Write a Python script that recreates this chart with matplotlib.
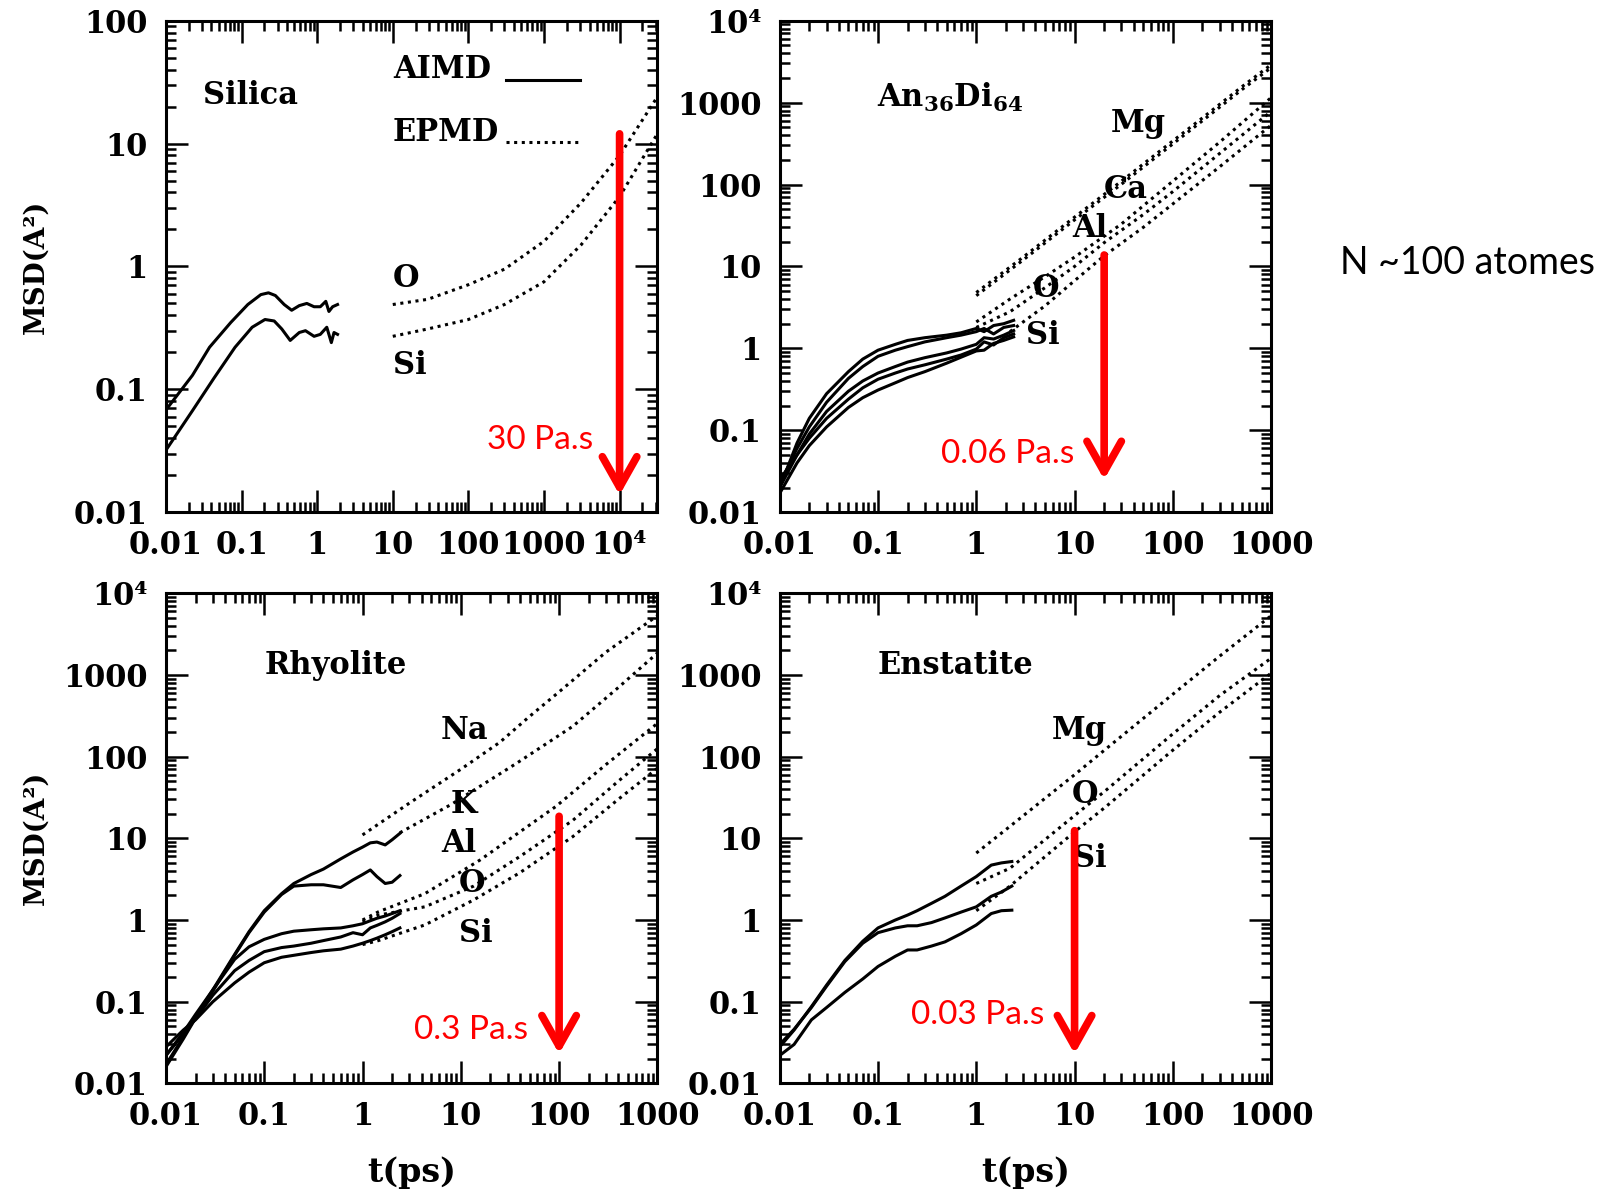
import matplotlib
matplotlib.use("Agg")
import matplotlib.pyplot as plt
from matplotlib.ticker import LogLocator, NullFormatter
import numpy as np

plt.rcParams['font.family'] = 'DejaVu Serif'
plt.rcParams['font.weight'] = 'bold'
plt.rcParams['mathtext.fontset'] = 'dejavuserif'

# ---- Silica ----
sil_t_aimd = [0.01, 0.0224, 0.0377, 0.072, 0.121, 0.18, 0.227, 0.28, 0.366, 0.46, 0.58, 0.73, 0.91, 1.1, 1.3, 1.43, 1.6, 1.86]
sil_O_aimd = [0.068, 0.13, 0.22, 0.35, 0.49, 0.59, 0.61, 0.58, 0.49, 0.44, 0.48, 0.50, 0.47, 0.47, 0.52, 0.43, 0.47, 0.49]
sil_t_aimd_si = [0.01, 0.0224, 0.043, 0.082, 0.138, 0.204, 0.27, 0.34, 0.44, 0.58, 0.7, 0.91, 1.1, 1.34, 1.54, 1.67, 1.86]
sil_Si_aimd = [0.032, 0.067, 0.123, 0.22, 0.32, 0.37, 0.36, 0.31, 0.25, 0.29, 0.30, 0.27, 0.28, 0.32, 0.24, 0.29, 0.28]
sil_t_epmd = [10, 29, 100, 300, 1000, 3100, 10000, 31600]
sil_O_epmd = [0.49, 0.54, 0.71, 0.95, 1.6, 3.3, 8.0, 24]
sil_Si_epmd = [0.27, 0.31, 0.37, 0.49, 0.75, 1.5, 3.7, 12]

# ---- An36Di64 ----
and_t_aimd = [0.01, 0.015, 0.02, 0.03, 0.05, 0.07, 0.1, 0.15, 0.2, 0.3, 0.5, 0.7, 1.0, 1.2, 1.5, 1.9, 2.4]
and_Mg_aimd = [0.02, 0.07, 0.14, 0.28, 0.52, 0.74, 0.95, 1.12, 1.25, 1.35, 1.45, 1.55, 1.75, 1.6, 1.9, 2.0, 2.2]
and_Ca_aimd = [0.022, 0.06, 0.11, 0.22, 0.43, 0.6, 0.8, 0.95, 1.05, 1.2, 1.35, 1.45, 1.6, 1.75, 1.5, 1.8, 1.9]
and_Al_aimd = [0.02, 0.05, 0.09, 0.17, 0.3, 0.4, 0.5, 0.6, 0.68, 0.77, 0.88, 0.98, 1.12, 1.35, 1.3, 1.45, 1.65]
and_O_aimd = [0.025, 0.05, 0.08, 0.14, 0.24, 0.33, 0.42, 0.5, 0.56, 0.63, 0.74, 0.83, 0.98, 1.2, 1.1, 1.35, 1.5]
and_Si_aimd = [0.017, 0.04, 0.065, 0.11, 0.19, 0.25, 0.31, 0.38, 0.44, 0.52, 0.66, 0.78, 0.93, 0.95, 1.15, 1.25, 1.38]
and_t_mg = [1, 3, 10, 30, 74, 200, 500, 1000]
and_Mg_epmd = [4.8, 13, 40, 110, 257, 650, 1550, 2900]
and_Ca_epmd = [4.4, 12, 37, 101, 236, 600, 1430, 2670]
and_t_al = [1, 2.2, 5, 10, 30, 100, 300, 1000]
and_Al_epmd = [2.1, 4.0, 7.5, 13, 33, 110, 330, 1150]
and_t_o = [1, 2.2, 5, 10, 20, 50, 100, 300, 1000]
and_O_epmd = [1.8, 2.8, 5.5, 10, 19.5, 43, 82, 240, 780]
and_t_si = [2.2, 5, 10, 20, 50, 100, 300, 1000]
and_Si_epmd = [1.6, 3.3, 6.7, 13.5, 30, 58, 165, 530]

# ---- Rhyolite ----
rhy_t_aimd = [0.01, 0.015, 0.02, 0.03, 0.05, 0.07, 0.1, 0.15, 0.2, 0.3, 0.4, 0.6, 0.8, 1.0, 1.2, 1.4, 1.7, 2.0, 2.4]
rhy_Na_aimd = [0.017, 0.037, 0.065, 0.14, 0.38, 0.72, 1.3, 2.1, 2.8, 3.6, 4.2, 5.6, 6.8, 7.8, 8.8, 9.0, 8.3, 9.6, 11.5]
rhy_K_aimd = [0.016, 0.035, 0.063, 0.135, 0.37, 0.7, 1.25, 2.05, 2.6, 2.7, 2.7, 2.5, 3.1, 3.6, 4.1, 3.4, 2.8, 2.9, 3.5]
rhy_Al_aimd = [0.022, 0.042, 0.07, 0.14, 0.33, 0.47, 0.58, 0.68, 0.73, 0.76, 0.78, 0.80, 0.85, 0.90, 0.98, 1.05, 1.12, 1.2, 1.3]
rhy_O_aimd = [0.022, 0.04, 0.062, 0.12, 0.24, 0.32, 0.41, 0.46, 0.48, 0.52, 0.56, 0.62, 0.70, 0.66, 0.80, 0.86, 0.95, 1.05, 1.2]
rhy_Si_aimd = [0.028, 0.045, 0.06, 0.1, 0.17, 0.23, 0.3, 0.35, 0.37, 0.4, 0.42, 0.44, 0.48, 0.52, 0.56, 0.6, 0.66, 0.72, 0.8]
rhy_t_na = [1, 3, 10, 25, 50, 100, 300, 1000]
rhy_Na_epmd = [11, 27, 70, 150, 310, 620, 1900, 5300]
rhy_t_k = [2.4, 8, 37, 138, 400, 1000]
rhy_K_epmd = [11.7, 26, 83, 235, 700, 1850]
rhy_t_al = [1, 1.45, 4.3, 15.6, 93, 300, 1000]
rhy_Al_epmd = [1.0, 1.26, 2.1, 5.4, 24.6, 80, 255]
rhy_t_osi = [1, 1.45, 4.3, 13.5, 40, 138, 400, 1000]
rhy_O_epmd = [0.95, 1.15, 1.45, 2.6, 6.0, 16.6, 50, 125]
rhy_Si_epmd = [0.5, 0.56, 0.87, 1.76, 3.8, 10.5, 30, 72]

# ---- Enstatite ----
ens_t_aimd = [0.01, 0.014, 0.021, 0.03, 0.046, 0.07, 0.1, 0.15, 0.2, 0.25, 0.35, 0.48, 0.7, 1.0, 1.42, 1.8, 2.3]
ens_Mg_aimd = [0.028, 0.045, 0.087, 0.16, 0.32, 0.55, 0.8, 1.0, 1.15, 1.3, 1.6, 1.95, 2.6, 3.4, 4.7, 5.0, 5.2]
ens_O_aimd = [0.03, 0.046, 0.085, 0.155, 0.31, 0.52, 0.7, 0.8, 0.85, 0.85, 0.93, 1.06, 1.25, 1.45, 1.95, 2.2, 2.6]
ens_Si_aimd = [0.022, 0.03, 0.06, 0.085, 0.13, 0.19, 0.27, 0.36, 0.43, 0.43, 0.48, 0.54, 0.68, 0.87, 1.2, 1.3, 1.32]
ens_t_epmd = [1, 2.2, 10, 21, 100, 300, 1000]
ens_Mg_epmd = [6.6, 14, 60, 125, 580, 1700, 5300]
ens_O_epmd = [2.8, 4.3, 19, 39, 190, 560, 1600]
ens_Si_epmd = [1.3, 2.6, 12, 24.6, 120, 350, 1050]

# viscosity arrows: time, top and tip of arrow, label
visc_t = [1e4, 20, 100, 10]
visc_top = [12, 13.8, 18.6, 12.4]
visc_tip = [0.0138, 0.025, 0.023, 0.023]
visc_label = ['30 Pa.s', '0.06 Pa.s', '0.3 Pa.s', '0.03 Pa.s']

fig = plt.figure(figsize=(16.16, 11.94), dpi=100)
ax_sil = fig.add_axes([0.1027, 0.571, 0.3041, 0.4117])
ax_and = fig.add_axes([0.4825, 0.571, 0.3041, 0.4117])
ax_rhy = fig.add_axes([0.1027, 0.0926, 0.3041, 0.4106])
ax_ens = fig.add_axes([0.4825, 0.0926, 0.3041, 0.4106])

LW = 2.2
DOT = (0, (1, 1.5))
TXT = 22


def setup(ax, xlim, ylim, xticks, xlabels, yticks, ylabels):
    ax.set_xscale('log')
    ax.set_yscale('log')
    ax.set_xlim(xlim)
    ax.set_ylim(ylim)
    ax.set_xticks(xticks, xlabels)
    ax.set_yticks(yticks, ylabels)
    for axis in (ax.xaxis, ax.yaxis):
        axis.set_minor_locator(LogLocator(base=10, subs=np.arange(2, 10), numticks=100))
        axis.set_minor_formatter(NullFormatter())
    ax.tick_params(which='both', direction='in', top=True, right=True, width=1.8)
    ax.tick_params(which='major', length=16, labelsize=TXT, pad=13)
    ax.tick_params(which='minor', length=7)
    for sp in ax.spines.values():
        sp.set_linewidth(2.2)


def solid(ax, t, y, **kw):
    ax.plot(t, y, color='black', lw=LW, solid_joinstyle='round', **kw)


def dotted(ax, t, y, **kw):
    ax.plot(t, y, color='black', lw=LW, linestyle=DOT, **kw)


def arrow(ax, i, tx, ty):
    ax.annotate('', xy=(visc_t[i], visc_tip[i]), xytext=(visc_t[i], visc_top[i]),
                arrowprops=dict(arrowstyle='->,head_length=1.1,head_width=0.62',
                                color='red', lw=5.5, mutation_scale=20,
                                shrinkA=0, shrinkB=0))
    ax.text(tx, ty, visc_label[i], color='red', fontsize=24, family='Lato',
            fontweight='normal', ha='right', va='center')


y4 = [0.01, 0.1, 1, 10, 100, 1000, 1e4]
y4_lab = ['0.01', '0.1', '1', '10', '100', '1000', '10⁴']
x3 = [0.01, 0.1, 1, 10, 100, 1000]
x3_lab = ['0.01', '0.1', '1', '10', '100', '1000']

# Silica
setup(ax_sil, (0.01, 10 ** 4.5), (0.01, 100),
      [0.01, 0.1, 1, 10, 100, 1000, 1e4], ['0.01', '0.1', '1', '10', '100', '1000', '10⁴'],
      [0.01, 0.1, 1, 10, 100], ['0.01', '0.1', '1', '10', '100'])
h_aimd, = ax_sil.plot(sil_t_aimd, sil_O_aimd, color='black', lw=LW, solid_joinstyle='round')
solid(ax_sil, sil_t_aimd_si, sil_Si_aimd)
h_epmd, = ax_sil.plot(sil_t_epmd, sil_O_epmd, color='black', lw=LW, linestyle=DOT)
dotted(ax_sil, sil_t_epmd, sil_Si_epmd)
# legend keys only; the method names are written left-aligned beside them
ax_sil.legend([h_aimd, h_epmd], ['', ''], loc='upper right', bbox_to_anchor=(0.842, 0.906),
              frameon=False, markerfirst=False, handlelength=2.4, handletextpad=0,
              labelspacing=1.0, fontsize=TXT, borderpad=0, borderaxespad=0)
ax_sil.text(10, 40, 'AIMD', fontsize=TXT, ha='left', va='center')
ax_sil.text(10, 12.3, 'EPMD', fontsize=TXT, ha='left', va='center')
ax_sil.text(0.031, 24.7, 'Silica', fontsize=TXT, ha='left', va='center')
ax_sil.text(10, 0.8, 'O', fontsize=TXT, ha='left', va='center')
ax_sil.text(10, 0.155, 'Si', fontsize=TXT, ha='left', va='center')
arrow(ax_sil, 0, 4400, 0.039)

# An36Di64
setup(ax_and, (0.01, 1000), (0.01, 1e4), x3, x3_lab, y4, y4_lab)
for y in (and_Mg_aimd, and_Ca_aimd, and_Al_aimd, and_O_aimd, and_Si_aimd):
    solid(ax_and, and_t_aimd, y)
dotted(ax_and, and_t_mg, and_Mg_epmd)
dotted(ax_and, and_t_mg, and_Ca_epmd)
dotted(ax_and, and_t_al, and_Al_epmd)
dotted(ax_and, and_t_o, and_O_epmd)
dotted(ax_and, and_t_si, and_Si_epmd)
ax_and.text(0.098, 1150, r'An$_{\mathbf{36}}$Di$_{\mathbf{64}}$', fontsize=TXT, ha='left', va='center')
for lab, tx, ty in [('Mg', 44, 560), ('Ca', 33, 87), ('Al', 14.4, 29), ('O', 5.1, 5.4), ('Si', 4.8, 1.43)]:
    ax_and.text(tx, ty, lab, fontsize=TXT, ha='center', va='center')
arrow(ax_and, 1, 10, 0.051)

# Rhyolite
setup(ax_rhy, (0.01, 1000), (0.01, 1e4), x3, x3_lab, y4, y4_lab)
for y in (rhy_Na_aimd, rhy_K_aimd, rhy_Al_aimd, rhy_O_aimd, rhy_Si_aimd):
    solid(ax_rhy, rhy_t_aimd, y)
dotted(ax_rhy, rhy_t_na, rhy_Na_epmd)
dotted(ax_rhy, rhy_t_k, rhy_K_epmd)
dotted(ax_rhy, rhy_t_al, rhy_Al_epmd)
dotted(ax_rhy, rhy_t_osi, rhy_O_epmd)
dotted(ax_rhy, rhy_t_osi, rhy_Si_epmd)
ax_rhy.text(0.1, 1320, 'Rhyolite', fontsize=TXT, ha='left', va='center')
for lab, tx, ty in [('Na', 11, 208), ('K', 10.7, 26), ('Al', 9.6, 8.7), ('O', 12.9, 2.8), ('Si', 14.2, 0.68)]:
    ax_rhy.text(tx, ty, lab, fontsize=TXT, ha='center', va='center')
arrow(ax_rhy, 2, 48, 0.045)

# Enstatite
setup(ax_ens, (0.01, 1000), (0.01, 1e4), x3, x3_lab, y4, y4_lab)
for y in (ens_Mg_aimd, ens_O_aimd, ens_Si_aimd):
    solid(ax_ens, ens_t_aimd, y)
for y in (ens_Mg_epmd, ens_O_epmd, ens_Si_epmd):
    dotted(ax_ens, ens_t_epmd, y)
ax_ens.text(0.098, 1320, 'Enstatite', fontsize=TXT, ha='left', va='center')
for lab, tx, ty in [('Mg', 11.1, 208), ('O', 12.9, 34), ('Si', 14.4, 5.6)]:
    ax_ens.text(tx, ty, lab, fontsize=TXT, ha='center', va='center')
arrow(ax_ens, 3, 4.9, 0.069)

for ax in (ax_sil, ax_rhy):
    ax.set_ylabel('MSD(A²)', fontsize=20, fontweight='bold')
    ax.yaxis.label.set_va('center')
    ax.yaxis.set_label_coords(-0.265, 0.5)
for ax in (ax_rhy, ax_ens):
    ax.set_xlabel('t(ps)', fontsize=24, fontweight='bold')
    ax.xaxis.label.set_va('center')
    ax.xaxis.set_label_coords(0.5, -0.181)

fig.text(1340 / 1616, 1 - 263 / 1194, 'N ~100 atomes', fontsize=27, family='Lato',
         fontweight='normal', ha='left', va='center')

fig.savefig('out.png', dpi=100)
